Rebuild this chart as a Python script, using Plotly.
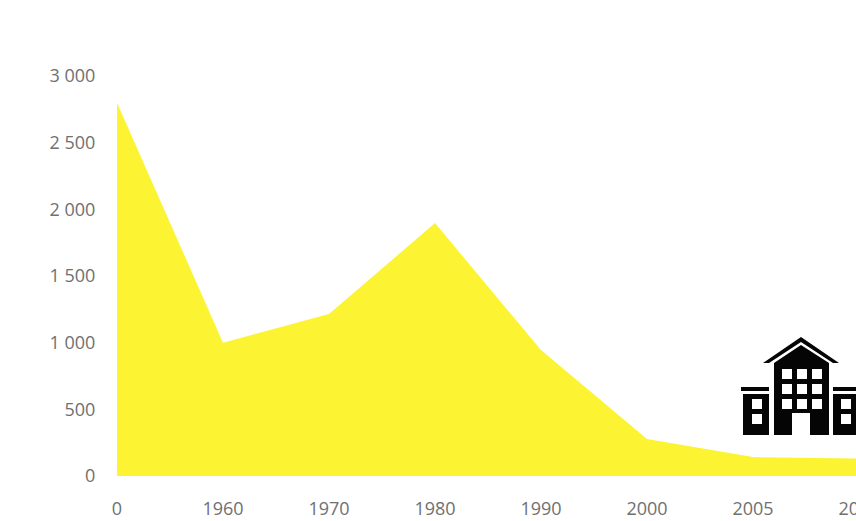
import plotly.graph_objects as go

years = ["0", "1960", "1970", "1980", "1990", "2000", "2005", "2010"]
values = [2800, 1000, 1215, 1897, 945, 277, 142, 130]
y_ticks = [0, 500, 1000, 1500, 2000, 2500, 3000]

WIDTH, HEIGHT = 1000, 521
LEFT, TOP, RIGHT, BOTTOM = 117, 76, 859, 476
TEXT = "#707070"
INK = "#050505"


def rect(x0, y0, x1, y1):
    return f"M{x0},{y0} L{x1},{y0} L{x1},{y1} L{x0},{y1} Z"


# building icon, drawn in pixel coordinates of the page
def building_path():
    parts = [
        # roof
        "M801,337 L839,363 L833,363 L801,342 L769,363 L763,363 Z",
        # main block with door notch
        "M774,363 L801,345 L829,363 L829,435 L810,435 L810,413 L792,413 L792,435 L774,435 Z",
        # wings and their caps
        rect(743, 394, 769, 435), rect(741, 387, 769, 391),
        rect(833, 394, 860, 435), rect(833, 387, 862, 391),
    ]
    for wx in (782, 797, 812):
        for wy in (369, 384, 399):
            parts.append(rect(wx, wy, wx + 10, wy + 10))
    for wx in (752, 841):
        for wy in (399, 414):
            parts.append(rect(wx, wy, wx + 10, wy + 10))
    return " ".join(parts)


# rescale the pixel path onto the paper
def to_paper(path):
    out = []
    for tok in path.split():
        if tok == "Z":
            out.append(tok)
            continue
        cmd, xy = tok[0], tok[1:]
        px, py = xy.split(",")
        fx = (float(px) - LEFT) / (RIGHT - LEFT)
        fy = (BOTTOM - float(py)) / (BOTTOM - TOP)
        out.append(f"{cmd}{fx:.5f},{fy:.5f}")
    return " ".join(out)


fig = go.Figure()
fig.add_trace(go.Scatter(
    x=years, y=values, mode="lines", fill="tozeroy",
    fillcolor="#fcf433", line=dict(width=0, color="#fcf433"),
    hoverinfo="skip", showlegend=False,
))
fig.add_shape(
    type="path", path=to_paper(building_path()), xref="paper", yref="paper",
    fillcolor=INK, line=dict(width=0), fillrule="evenodd", layer="above",
)

fig.update_layout(
    width=WIDTH, height=HEIGHT, autosize=False,
    margin=dict(l=LEFT, r=WIDTH - RIGHT, t=TOP, b=HEIGHT - BOTTOM, pad=0),
    paper_bgcolor="white", plot_bgcolor="white",
    separators=". ",
    font=dict(family="Open Sans", size=18, color=TEXT),
    xaxis=dict(
        type="category", categoryorder="array", categoryarray=years,
        range=[0, 7], showgrid=False, zeroline=False, showline=False,
        automargin=False, ticks="outside", ticklen=16, tickcolor="rgba(0,0,0,0)",
    ),
    yaxis=dict(
        range=[0, 3000], tickvals=y_ticks, tickformat=",d",
        showgrid=False, zeroline=False, showline=False,
        automargin=False, ticks="outside", ticklen=17, tickcolor="rgba(0,0,0,0)",
    ),
)

fig.write_html(
    "out.html",
    config={"displayModeBar": False},
    post_script="document.documentElement.style.overflow='hidden';document.body.style.overflow='hidden';document.body.style.margin='0';",
)
